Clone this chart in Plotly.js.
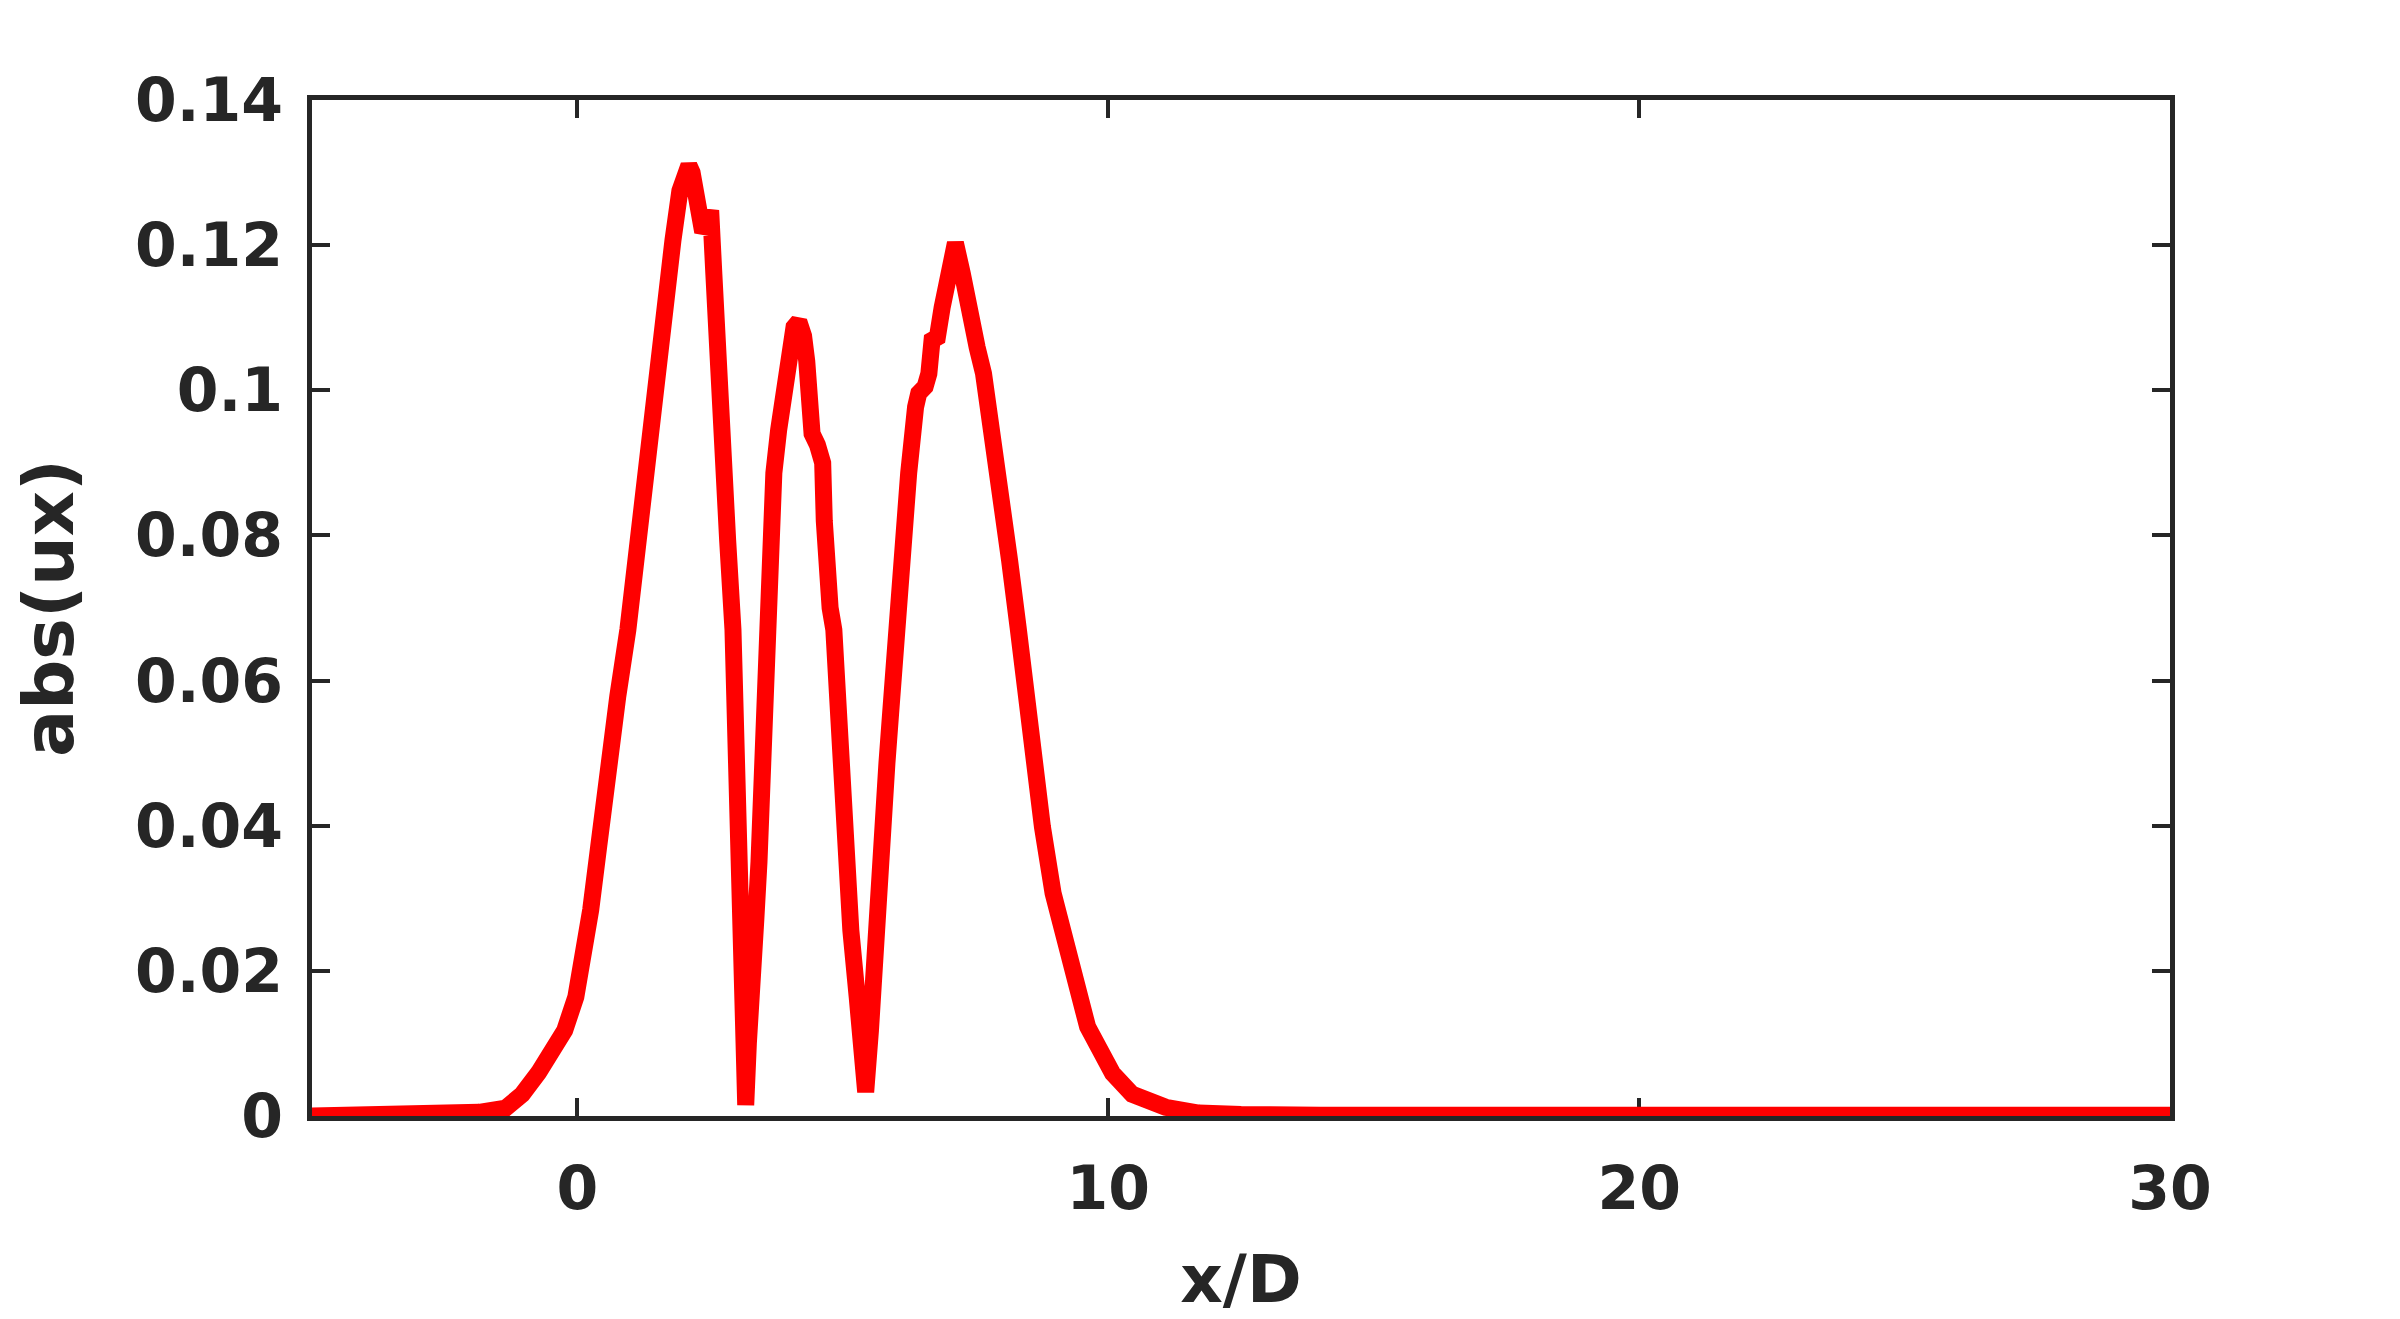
<!DOCTYPE html>
<html>
<head>
<meta charset="utf-8">
<script src="https://cdn.plot.ly/plotly-3.0.1.min.js"></script>
<style>
  html, body { margin: 0; padding: 0; background: #ffffff; }
  #chart { width: 2400px; height: 1319px; }
</style>
</head>
<body>
<div id="chart"></div>
<script>
// x/D positions
const xD = [
  -5, -3, -2.3, -1.85, -1.35, -1.04, -0.73, -0.47, -0.24, -0.03,
  0.09, 0.25, 0.40, 0.56, 0.76, 0.95, 1.20, 1.40, 1.64, 1.80,
  1.93, 2.03, 2.10, 2.16, 2.23, 2.29, 2.36, 2.44, 2.51, 2.57,
  2.64, 2.74, 2.83, 2.93, 2.98, 3.03, 3.07, 3.14, 3.17, 3.22,
  3.27, 3.31, 3.36, 3.42, 3.46, 3.48, 3.55, 3.61, 3.70, 3.79,
  3.82, 3.89, 3.98, 4.08, 4.17, 4.26, 4.32, 4.35, 4.42, 4.52,
  4.62, 4.65, 4.68, 4.76, 4.83, 4.92, 4.99, 5.08, 5.15, 5.27,
  5.36, 5.43, 5.52, 5.58, 5.68, 5.77, 5.83, 5.90, 5.96, 6.04,
  6.15, 6.24, 6.37, 6.43, 6.55, 6.62, 6.68, 6.78, 6.87, 6.96,
  7.06, 7.12, 7.25, 7.38, 7.53, 7.65, 7.80, 7.92, 8.04, 8.14,
  8.30, 8.43, 8.62, 8.76, 8.96, 9.25, 9.61, 10.08, 10.45, 11.08,
  11.7, 12.5, 14, 30
];
// abs(ux) values
const absUx = [
  0, 0.0001, 0.0003, 0.0005, 0.0011, 0.003, 0.006, 0.0092, 0.0118, 0.0164,
  0.021, 0.0284, 0.0371, 0.0477, 0.0578, 0.067, 0.0839, 0.0977, 0.1115, 0.1207,
  0.1275, 0.1303, 0.1310, 0.1300, 0.1270, 0.1240, 0.1218, 0.1228, 0.1248, 0.1160,
  0.1023, 0.0886, 0.0793, 0.067, 0.053, 0.039, 0.0256, 0.0118, 0.0015, 0.010,
  0.021, 0.024, 0.027, 0.035, 0.044, 0.053, 0.067, 0.0793, 0.0886, 0.0945,
  0.0960, 0.1023, 0.1050, 0.1087, 0.1095, 0.1075, 0.1040, 0.0975, 0.0940, 0.0925,
  0.0900, 0.0820, 0.0740, 0.0700, 0.067, 0.0532, 0.0426, 0.0348, 0.0256, 0.0164,
  0.0073, 0.0033, 0.0118, 0.0211, 0.0302, 0.0394, 0.0486, 0.0555, 0.0624, 0.067,
  0.0793, 0.0886, 0.0977, 0.0996, 0.1005, 0.1023, 0.1069, 0.1073, 0.1114, 0.1161,
  0.1202, 0.1203, 0.1161, 0.1100, 0.1059, 0.1023, 0.0955, 0.0886, 0.0817, 0.0766,
  0.0674, 0.0583, 0.0490, 0.0398, 0.0307, 0.0215, 0.0123, 0.0059, 0.0030, 0.0012,
  0.0004, 0.0002, 0.0001, 0.0001
];

const xTickVals = [0, 10, 20, 30];
const xTickText = ['0', '10', '20', '30'];
const yTickVals = [0, 0.02, 0.04, 0.06, 0.08, 0.1, 0.12, 0.14];
const yTickText = ['0', '0.02', '0.04', '0.06', '0.08', '0.1', '0.12', '0.14'];

const axisColor = '#262626';
const fontFamily = 'DejaVu Sans, Liberation Sans, sans-serif';

const trace = {
  type: 'scatter',
  mode: 'lines',
  x: xD,
  y: absUx,
  line: { color: '#ff0000', width: 17, shape: 'linear' },
  cliponaxis: false,
  hoverinfo: 'skip'
};

const commonAxis = {
  showgrid: false,
  zeroline: false,
  showline: true,
  linewidth: 5,
  linecolor: axisColor,
  mirror: 'ticks',
  ticks: 'inside',
  ticklen: 18,
  tickwidth: 4,
  tickcolor: axisColor,
  layer: 'below traces',
  automargin: false,
  tickfont: { family: fontFamily, size: 60, color: axisColor, weight: 'bold' }
};

const layout = {
  width: 2400,
  height: 1319,
  margin: { l: 312, r: 230, t: 100, b: 203, pad: 0 },
  paper_bgcolor: '#ffffff',
  plot_bgcolor: '#ffffff',
  showlegend: false,
  font: { family: fontFamily, color: axisColor },
  xaxis: Object.assign({}, commonAxis, {
    range: [-5, 30],
    tickmode: 'array',
    tickvals: xTickVals,
    ticktext: xTickText,
    ticklabelstandoff: 16,
    title: { text: 'x/D', font: { family: fontFamily, size: 66, color: axisColor, weight: 'bold' }, standoff: 35 }
  }),
  yaxis: Object.assign({}, commonAxis, {
    range: [0, 0.14],
    tickmode: 'array',
    tickvals: yTickVals,
    ticktext: yTickText,
    ticklabelstandoff: 12,
    title: { text: 'abs(ux)', font: { family: fontFamily, size: 70, color: axisColor, weight: 'bold' }, standoff: 40 }
  })
};

Plotly.newPlot('chart', [trace], layout, { staticPlot: true, displayModeBar: false });
</script>
</body>
</html>
